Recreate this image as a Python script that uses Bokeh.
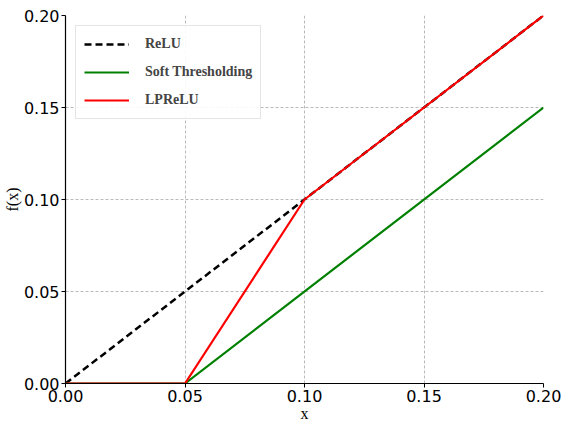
from bokeh.plotting import figure
from bokeh.models import Range1d, FixedTicker, Legend, LegendItem, CustomJSTickFormatter
from bokeh.embed import file_html
from bokeh.resources import INLINE

relu_x = [0.0, 0.2]
relu_y = [0.0, 0.2]
soft_x = [0.0, 0.05, 0.2]
soft_y = [0.0, 0.0, 0.15]
lp_x = [0.0, 0.05, 0.1, 0.2]
lp_y = [0.0, 0.0, 0.1, 0.2]
ticks = [0.0, 0.05, 0.10, 0.15, 0.20]

p = figure(width=569, height=424, output_backend="svg", toolbar_location=None,
           x_range=Range1d(0, 0.2), y_range=Range1d(0, 0.2),
           min_border_left=20, min_border_right=26, min_border_top=15, min_border_bottom=20)
p.outline_line_color = None
p.background_fill_color = "white"
p.border_fill_color = "white"

fmt = CustomJSTickFormatter(code="return tick.toFixed(2);")
for ax in (p.xaxis[0], p.yaxis[0]):
    ax.ticker = FixedTicker(ticks=ticks)
    ax.formatter = fmt
    ax.minor_tick_line_color = None
    ax.major_tick_in = 0
    ax.major_tick_out = 4
    ax.major_label_text_font = "DejaVu Sans"
    ax.major_label_text_font_size = "16px"
    ax.major_label_text_color = "black"
    ax.axis_line_color = "black"
    ax.axis_line_width = 1.2
    ax.major_label_standoff = 2
    ax.axis_label_text_font = "Liberation Serif"
    ax.axis_label_text_font_style = "normal"
    ax.axis_label_text_font_size = "16px"
    ax.axis_label_text_color = "black"
    ax.axis_label_text_line_height = 0.8
    ax.axis_label_standoff = 0
p.xaxis[0].axis_label = "x"
p.yaxis[0].axis_label = "f(x)"

for g in (p.xgrid[0], p.ygrid[0]):
    g.ticker = FixedTicker(ticks=ticks)
    g.grid_line_color = "#a8a8a8"
    g.grid_line_dash = "3 2"
    g.grid_line_width = 0.8

r1 = p.line(relu_x, relu_y, line_color="black", line_width=2.5, line_dash="7 4")
r2 = p.line(soft_x, soft_y, line_color="green", line_width=2.2)
r3 = p.line(lp_x, lp_y, line_color="red", line_width=2.2)

legend = Legend(items=[LegendItem(label="ReLU", renderers=[r1]),
                       LegendItem(label="Soft Thresholding", renderers=[r2]),
                       LegendItem(label="LPReLU", renderers=[r3])],
                location="top_left")
legend.label_text_font = "Liberation Serif"
legend.label_text_font_style = "bold"
legend.label_text_font_size = "14px"
legend.glyph_width = 45
legend.label_standoff = 16
legend.spacing = 8
legend.padding = 8
legend.margin = 10
legend.border_line_color = "#cccccc"
legend.border_line_width = 1
legend.background_fill_alpha = 0.9
p.add_layout(legend)

open("out.html", "w").write(file_html(p, INLINE))
